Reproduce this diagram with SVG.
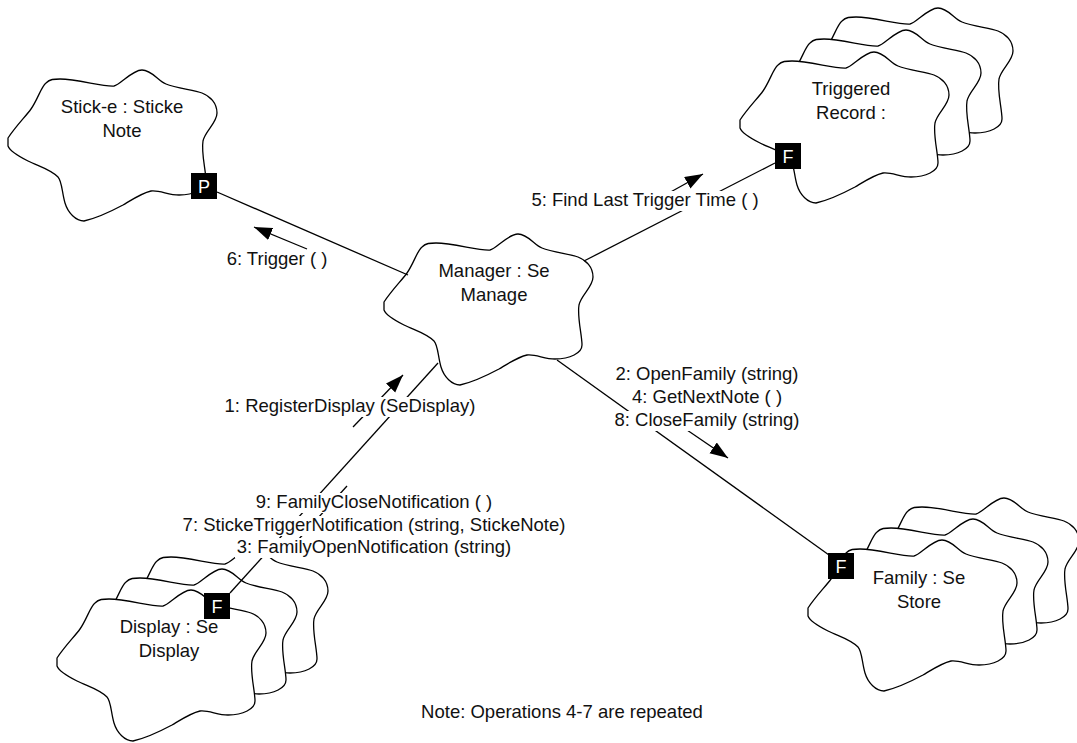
<svg xmlns="http://www.w3.org/2000/svg" width="1077" height="743" viewBox="0 0 1077 743">
<style>
.cloud{fill:#fff;stroke:#000;stroke-width:1.3;stroke-linejoin:round}
.t{font-family:"Liberation Sans",Arial,sans-serif;font-size:18.5px;fill:#111;text-anchor:middle}
.box{fill:#000}
.bl{font-family:"Liberation Sans",Arial,sans-serif;font-size:18px;fill:#fff;text-anchor:middle}
.conn{stroke:#000;stroke-width:1.3;fill:none}
.msg{stroke:#000;stroke-width:1.3;fill:none;marker-end:url(#ah)}
.bg{fill:#fff}
</style>
<defs>
<path id="cloud" d="M0,75 L0,67 C8,55 18,45 23,38 C30,28 33,16 38,12 C42,8 46,8 52,8 C70,8 95,16 106,15 C112,14 124,-1 134,-1 C144,-1 150,10 158,13 C168,17 185,19 194,22 C202,25 209,32 209,42 C209,52 197,60 195,70 C193,82 198,100 198,110 C198,118 186,124 171,124 C160,124 152,119 143,120 C134,122 125,128 115,134 C100,142 85,148 76,150 C68,150 60,142 57,132 C54,122 54,110 50,106 C42,98 30,95 20,90 C10,85 2,80 0,75 Z"/>
<marker id="ah" markerUnits="userSpaceOnUse" markerWidth="20" markerHeight="14" refX="18" refY="6.5" orient="auto"><path d="M0,0 L18,6.5 L0,13 Z" fill="#000"/></marker>
</defs>
<rect width="1077" height="743" fill="#fff"/>

<g id="stick-e">
<use href="#cloud" class="cloud" x="8" y="71"/>
<rect class="box" x="191" y="173" width="26" height="26"/>
<text class="bl" x="204" y="192.5">P</text>
<text class="t" x="122" y="113">Stick-e : Sticke</text>
<text class="t" x="122" y="137">Note</text>
</g>

<g id="triggered-record">
<use href="#cloud" class="cloud" x="804" y="9"/>
<use href="#cloud" class="cloud" x="772" y="31"/>
<use href="#cloud" class="cloud" x="740" y="53"/>
<rect class="box" x="775" y="143" width="26" height="26"/>
<text class="bl" x="788" y="162.5">F</text>
<text class="t" x="851" y="95">Triggered</text>
<text class="t" x="851" y="119">Record :</text>
</g>

<g id="manager">
<use href="#cloud" class="cloud" x="384" y="235"/>
<text class="t" x="494" y="277">Manager : Se</text>
<text class="t" x="494" y="301">Manage</text>
</g>

<g id="family">
<use href="#cloud" class="cloud" x="870" y="499"/>
<use href="#cloud" class="cloud" x="839" y="520"/>
<use href="#cloud" class="cloud" x="808" y="541"/>
<rect class="box" x="828" y="553" width="26" height="26"/>
<text class="bl" x="841" y="572.5">F</text>
<text class="t" x="919" y="584">Family : Se</text>
<text class="t" x="919" y="608">Store</text>
</g>

<g id="display">
<use href="#cloud" class="cloud" x="119" y="549"/>
<use href="#cloud" class="cloud" x="88" y="570"/>
<use href="#cloud" class="cloud" x="57" y="591"/>
<rect class="box" x="204" y="593" width="26" height="26"/>
<text class="bl" x="217" y="612.5">F</text>
<text class="t" x="169" y="633">Display : Se</text>
<text class="t" x="169" y="657">Display</text>
</g>

<g id="connectors">
<line class="conn" x1="217" y1="192" x2="408" y2="275"/>
<line class="conn" x1="584" y1="261" x2="775" y2="163"/>
<line class="conn" x1="557" y1="360" x2="829" y2="555"/>
<line class="conn" x1="438" y1="363" x2="230" y2="593"/>
<line class="msg" x1="307" y1="249" x2="254" y2="227"/>
<line class="msg" x1="658" y1="199" x2="703" y2="174"/>
<line class="msg" x1="353" y1="427" x2="403" y2="375"/>
<line class="msg" x1="687" y1="430" x2="728" y2="458"/>
<line class="conn" x1="347" y1="486" x2="298" y2="540"/>
</g>

<g id="labels">
<rect class="bg" x="225" y="250" width="106" height="20"/>
<text class="t" x="277" y="265">6: Trigger ( )</text>
<rect class="bg" x="528" y="191" width="234" height="20"/>
<text class="t" x="645" y="206">5: Find Last Trigger Time ( )</text>
<rect class="bg" x="223" y="397" width="254" height="20"/>
<text class="t" x="350" y="412">1: RegisterDisplay (SeDisplay)</text>
<rect class="bg" x="612" y="365" width="188" height="20"/>
<text class="t" x="707" y="380">2: OpenFamily (string)</text>
<rect class="bg" x="630" y="388" width="154" height="20"/>
<text class="t" x="707" y="403">4: GetNextNote ( )</text>
<rect class="bg" x="612" y="411" width="190" height="20"/>
<text class="t" x="707" y="426">8: CloseFamily (string)</text>
<rect class="bg" x="254" y="493" width="240" height="20"/>
<text class="t" x="374" y="508">9: FamilyCloseNotification ( )</text>
<rect class="bg" x="180" y="516" width="388" height="20"/>
<text class="t" x="374" y="531">7: StickeTriggerNotification (string, StickeNote)</text>
<rect class="bg" x="235" y="538" width="278" height="20"/>
<text class="t" x="374" y="553">3: FamilyOpenNotification (string)</text>
<text class="t" x="562" y="718">Note: Operations 4-7 are repeated</text>
</g>
</svg>
